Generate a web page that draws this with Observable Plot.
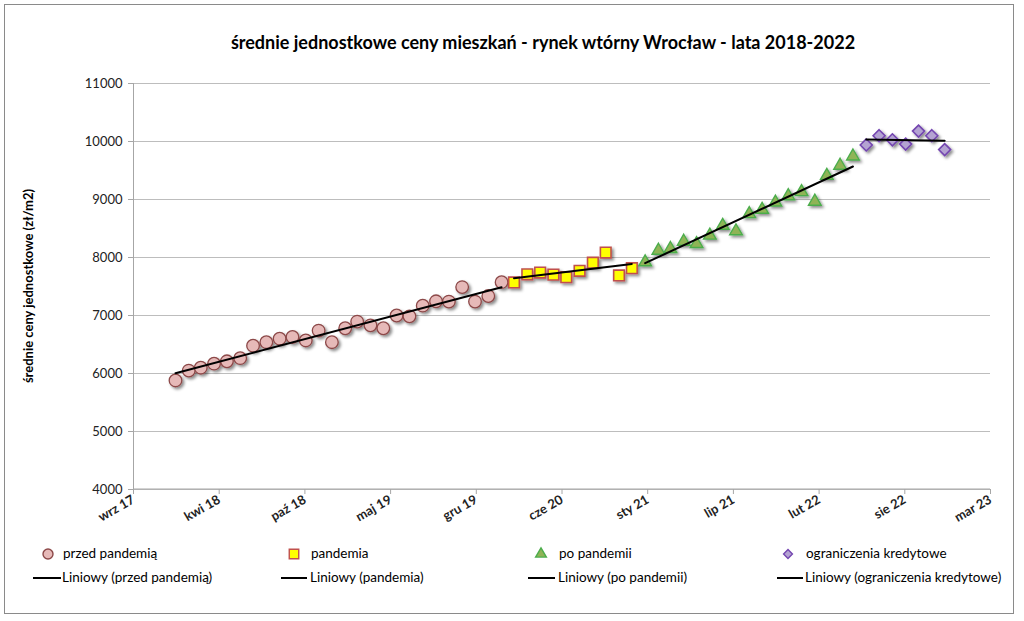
<!DOCTYPE html>
<html>
<head>
<meta charset="utf-8">
<script src="https://cdn.jsdelivr.net/npm/d3@7"></script>
<script src="https://cdn.jsdelivr.net/npm/@observablehq/plot@0.6"></script>
<style>
  html, body { margin: 0; padding: 0; background: #fff; }
  #wrap { position: relative; width: 1024px; height: 621px; font-family: Lato, "Open Sans", sans-serif; color: #000; overflow: hidden; }
  #frame { position: absolute; left: 4px; top: 4px; width: 1010px; height: 610px; border: 1px solid #8a8a8a; box-sizing: border-box; }
  #title { position: absolute; left: 0; width: 1086px; top: 31px; text-align: center; font-weight: bold; font-size: 18px; }
  #ylabel { position: absolute; left: 28px; top: 286px; transform: translate(-50%, -50%) rotate(-90deg); white-space: nowrap; font-weight: bold; font-size: 13px; }
  #chart { position: absolute; left: 0; top: 0; }
  .leg { position: absolute; font-size: 13.5px; white-space: nowrap; line-height: 16px; }
  .legsym { position: absolute; }
  #chart g[aria-label="x-axis tick label"] text { font-weight: bold; }
</style>
</head>
<body>
<div id="wrap">
  <div id="frame"></div>
  <div id="title"></div>
  <div id="ylabel"></div>
  <div id="chart"></div>
</div>
<script>
// ---- data ----
const titleText = "średnie jednostkowe ceny mieszkań - rynek wtórny Wrocław - lata 2018-2022";
const yLabelText = "średnie ceny jednostkowe (zł/m2)";

const seriesNames = ["przed pandemią", "pandemia", "po pandemii", "ograniczenia kredytowe"];
const trendNames = ["Liniowy (przed pandemią)", "Liniowy (pandemia)", "Liniowy (po pandemii)", "Liniowy (ograniczenia kredytowe)"];

const monthsPre = ["2018-01","2018-02","2018-03","2018-04","2018-05","2018-06","2018-07","2018-08","2018-09","2018-10","2018-11","2018-12",
  "2019-01","2019-02","2019-03","2019-04","2019-05","2019-06","2019-07","2019-08","2019-09","2019-10","2019-11","2019-12","2020-01","2020-02"];
const valuesPre = [5880,6050,6100,6170,6210,6265,6480,6540,6600,6630,6570,6740,
  6540,6780,6895,6830,6780,7000,6985,7170,7245,7240,7490,7240,7335,7575];

const monthsPandemic = ["2020-03","2020-04","2020-05","2020-06","2020-07","2020-08","2020-09","2020-10","2020-11","2020-12"];
const valuesPandemic = [7570,7710,7740,7705,7660,7770,7910,8085,7690,7815];

const monthsPost = ["2021-01","2021-02","2021-03","2021-04","2021-05","2021-06","2021-07","2021-08","2021-09","2021-10","2021-11","2021-12",
  "2022-01","2022-02","2022-03","2022-04","2022-05"];
const valuesPost = [7920,8120,8150,8275,8235,8380,8550,8455,8750,8825,8950,9060,9130,8965,9410,9585,9745];

const monthsCredit = ["2022-06","2022-07","2022-08","2022-09","2022-10","2022-11","2022-12"];
const valuesCredit = [9940,10100,10030,9955,10180,10100,9860];

const xTickDates = ["2017-09-25","2018-04-13","2018-10-30","2019-05-18","2019-12-04","2020-06-21","2021-01-07","2021-07-26","2022-02-11","2022-08-30","2023-03-18"];
const xTickLabels = ["wrz 17","kwi 18","paź 18","maj 19","gru 19","cze 20","sty 21","lip 21","lut 22","sie 22","mar 23"];
const yTicks = [4000,5000,6000,7000,8000,9000,10000,11000];

// ---- styles ----
const styles = [
  {symbol: "circle",   fill: "#e6b9b8", stroke: "#8c4848", r: 6.3, sw: 1.3},
  {symbol: "square",   fill: "#ffff00", stroke: "#c0504d", r: 6.0, sw: 1.6},
  {symbol: "triangle", fill: "#8fb456", stroke: "#4cad4c", r: 4.7, sw: 1.4},
  {symbol: "diamond2", fill: "#b4a3d2", stroke: "#7446b0", r: 5.4, sw: 1.6}
];

const parse = d3.utcParse("%Y-%m");
const parseDay = d3.utcParse("%Y-%m-%d");
function build(months, values, name) {
  return months.map((m, i) => ({date: parse(m), value: values[i], series: name}));
}
const groups = [
  build(monthsPre, valuesPre, seriesNames[0]),
  build(monthsPandemic, valuesPandemic, seriesNames[1]),
  build(monthsPost, valuesPost, seriesNames[2]),
  build(monthsCredit, valuesCredit, seriesNames[3])
];
const tickDates = xTickDates.map(parseDay);
const xDomain = [tickDates[0], tickDates[tickDates.length - 1]];

document.getElementById("title").textContent = titleText;
document.getElementById("ylabel").textContent = yLabelText;

const marks = [
  Plot.gridY(yTicks, {stroke: "#bdbdbd", strokeOpacity: 1, strokeWidth: 1}),
  Plot.ruleX([xDomain[0]], {stroke: "#a6a6a6", strokeWidth: 1}),
  Plot.axisY({ticks: yTicks, tickSize: 5, tickPadding: 6, stroke: "#a6a6a6", label: null, tickFormat: d => String(d)}),
  Plot.axisX({ticks: tickDates, tickSize: 5, tickPadding: 4, tickRotate: -30, stroke: "#a6a6a6", label: null,
    tickFormat: (d, i) => xTickLabels[i]}),
];
groups.forEach((g, i) => {
  const s = styles[i];
  marks.push(Plot.dot(g, {x: "date", y: "value", symbol: () => s.symbol, r: s.r, fill: s.fill, stroke: s.stroke, strokeWidth: s.sw}));
});
groups.forEach(g => {
  marks.push(Plot.linearRegressionY(g, {x: "date", y: "value", stroke: "#000", strokeWidth: 2, ci: 0}));
});

const chart = Plot.plot({
  width: 1024,
  height: 530,
  marginLeft: 133,
  marginRight: 34,
  marginTop: 83,
  marginBottom: 41,
  style: {fontFamily: "Lato, 'Open Sans', sans-serif", fontSize: "13px", color: "#222", background: "transparent", overflow: "visible"},
  x: {type: "utc", domain: xDomain},
  y: {domain: [4000, 11000]},
  symbol: {type: "identity"},
  marks
});
document.getElementById("chart").appendChild(chart);

// drop shadow for markers
const svg = d3.select(chart);
const defs = svg.insert("defs", ":first-child");
const f = defs.append("filter").attr("id", "mshadow").attr("x", "-50%").attr("y", "-50%").attr("width", "200%").attr("height", "200%");
f.append("feDropShadow").attr("dx", 2).attr("dy", 2).attr("stdDeviation", 1.4).attr("flood-color", "#000").attr("flood-opacity", 0.45);
svg.selectAll('g[aria-label="dot"]').attr("filter", "url(#mshadow)");
svg.selectAll('g[aria-label="x-axis tick"] path, g[aria-label="y-axis tick"] path').attr("stroke", "#a6a6a6");
svg.append("line").attr("x1", 133).attr("x2", 990).attr("y1", 489).attr("y2", 489).attr("stroke", "#a6a6a6");

// ---- legend ----
const wrap = document.getElementById("wrap");
const legSymX = [48, 294, 541, 788];
const legTextX = [63, 311, 559, 806];
const legLineX = [[33, 61], [281, 307], [528, 555], [777, 803]];
const row1 = 554, row2 = 578;
const symPath = {
  circle: d3.symbol(d3.symbolCircle, Math.PI * 5 * 5)(),
  square: d3.symbol(d3.symbolSquare, 90)(),
  triangle: d3.symbol(d3.symbolTriangle, 50)(),
  diamond2: d3.symbol(d3.symbolDiamond2, 50)()
};
seriesNames.forEach((name, i) => {
  const s = styles[i];
  const sv = d3.create("svg").attr("class", "legsym").attr("width", 20).attr("height", 20)
    .style("left", (legSymX[i] - 10) + "px").style("top", (row1 - 10) + "px");
  sv.append("path").attr("d", symPath[s.symbol]).attr("transform", "translate(10,10)")
    .attr("fill", s.fill).attr("stroke", s.stroke).attr("stroke-width", 1.4);
  wrap.appendChild(sv.node());
  const t = document.createElement("div");
  t.className = "leg"; t.textContent = name;
  t.style.left = legTextX[i] + "px"; t.style.top = (row1 - 9) + "px";
  wrap.appendChild(t);

  const lv = d3.create("svg").attr("class", "legsym").attr("width", 40).attr("height", 6)
    .style("left", legLineX[i][0] + "px").style("top", (row2 - 3) + "px");
  lv.append("line").attr("x1", 0).attr("x2", legLineX[i][1] - legLineX[i][0]).attr("y1", 3).attr("y2", 3)
    .attr("stroke", "#000").attr("stroke-width", 2);
  wrap.appendChild(lv.node());
  const t2 = document.createElement("div");
  t2.className = "leg"; t2.textContent = trendNames[i];
  t2.style.left = (legTextX[i] - 1) + "px"; t2.style.top = (row2 - 9) + "px";
  wrap.appendChild(t2);
});
</script>
</body>
</html>
